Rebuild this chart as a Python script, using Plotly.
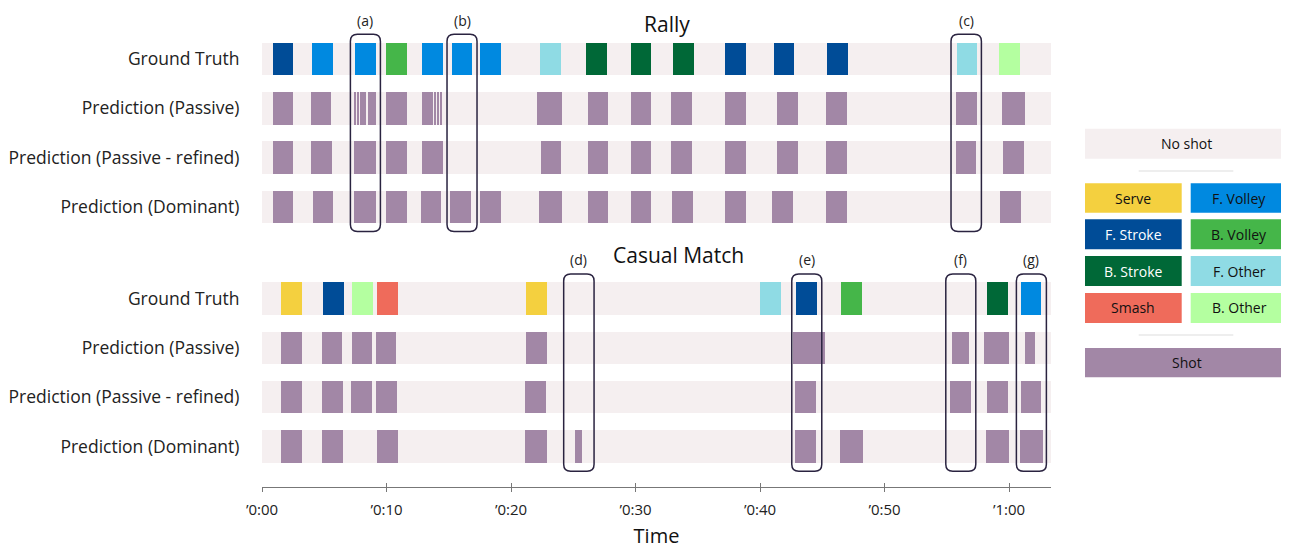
import plotly.graph_objects as go

# ---------------- data (seconds) ----------------
row_labels = ["Ground Truth", "Prediction (Passive)", "Prediction (Passive - refined)", "Prediction (Dominant)"]
x_max = 63.37
tick_vals = [0, 10, 20, 30, 40, 50, 60]
tick_text = ["’0:00", "’0:10", "’0:20", "’0:30", "’0:40", "’0:50", "’1:00"]

# Rally - ground truth
rally_gt_start = [0.86, 4.02, 7.50, 9.96, 12.85, 15.24, 17.51, 22.36, 26.06, 29.61, 33.01, 37.22, 41.10, 45.41, 55.80, 59.23]
rally_gt_end = [2.52, 5.68, 9.16, 11.62, 14.51, 16.90, 19.17, 24.02, 27.71, 31.28, 34.67, 38.88, 42.76, 47.07, 57.46, 60.88]
rally_gt_class = ["F. Stroke", "F. Volley", "F. Volley", "B. Volley", "F. Volley", "F. Volley", "F. Volley", "F. Other",
                  "B. Stroke", "B. Stroke", "B. Stroke", "F. Stroke", "F. Stroke", "F. Stroke", "F. Other", "B. Other"]

# Rally - predictions
rally_passive_start = [0.86, 3.91, 7.41, 7.63, 7.93, 8.05, 8.54, 9.96, 12.85, 13.57, 13.85, 14.11, 14.35,
                       22.12, 26.16, 29.61, 32.83, 37.22, 41.40, 45.33, 55.72, 59.44]
rally_passive_end = [2.52, 5.54, 7.51, 7.81, 7.99, 8.33, 9.19, 11.62, 13.49, 13.73, 13.98, 14.25, 14.43,
                     24.13, 27.82, 31.28, 34.51, 38.88, 43.05, 46.99, 57.46, 61.29]
rally_refined_start = [0.86, 3.97, 7.42, 9.96, 12.85, 22.39, 26.16, 29.61, 32.88, 37.22, 41.37, 45.33, 55.72, 59.52]
rally_refined_end = [2.52, 5.62, 9.16, 11.62, 14.51, 24.05, 27.82, 31.28, 34.54, 38.88, 43.03, 46.99, 57.38, 61.18]
rally_dominant_start = [0.86, 4.07, 7.42, 9.96, 12.75, 15.13, 17.49, 22.25, 26.16, 29.61, 32.96, 37.22, 41.00, 45.33, 59.31]
rally_dominant_end = [2.52, 5.73, 9.16, 11.62, 14.41, 16.79, 19.17, 24.13, 27.82, 31.28, 34.65, 38.88, 42.65, 46.99, 61.00]

# Casual match - ground truth
casual_gt_start = [1.50, 4.90, 7.23, 9.24, 21.20, 40.03, 42.92, 46.48, 58.23, 60.92]
casual_gt_end = [3.19, 6.56, 8.89, 10.90, 22.87, 41.72, 44.61, 48.17, 59.92, 62.60]
casual_gt_class = ["Serve", "F. Stroke", "B. Other", "Smash", "Serve", "F. Other", "F. Stroke", "B. Volley", "B. Stroke", "F. Volley"]

# Casual match - predictions
casual_passive_start = [1.50, 4.80, 7.20, 9.13, 21.20, 42.65, 55.42, 57.99, 61.29]
casual_passive_end = [3.19, 6.46, 8.87, 10.80, 22.87, 45.20, 56.82, 60.03, 62.12]
casual_refined_start = [1.50, 4.85, 7.15, 9.13, 21.16, 42.84, 55.29, 58.26, 60.92]
casual_refined_end = [3.19, 6.51, 8.87, 10.84, 22.81, 44.50, 56.98, 59.95, 62.60]
casual_dominant_start = [1.50, 4.85, 9.27, 21.10, 25.14, 25.33, 42.84, 46.40, 58.15, 60.84]
casual_dominant_end = [3.19, 6.51, 10.96, 22.87, 25.26, 25.73, 44.50, 48.31, 60.03, 62.71]

# Highlighted regions
hl_names = ["(a)", "(b)", "(c)", "(d)", "(e)", "(f)", "(g)"]
hl_start = [7.10, 14.86, 55.34, 24.23, 42.55, 54.92, 60.59]
hl_end = [9.51, 17.27, 57.78, 26.67, 44.96, 57.33, 63.00]
hl_section = ["Rally", "Rally", "Rally", "Casual", "Casual", "Casual", "Casual"]

# Classes / legend
class_names = ["Serve", "F. Volley", "F. Stroke", "B. Volley", "B. Stroke", "F. Other", "Smash", "B. Other"]
class_colors = ["#f4d03f", "#0089e0", "#004c97", "#45b649", "#006837", "#8fdbe4", "#ef6b5b", "#b4ffa0"]
class_text_colors = ["#111", "#111", "#fff", "#111", "#fff", "#111", "#111", "#111"]
shot_color = "#a287a6"
noshot_color = "#f5eff0"

# ---------------- layout geometry ----------------
# reference pixel layout; the page body adds an 8px offset, so the figure is shifted by it
OFF = 8
PLOT_L, PLOT_R, PLOT_T, PLOT_B = 262, 1051, 30, 487
W, H = 1289 - OFF, 552 - OFF
L, T = PLOT_L - OFF, PLOT_T - OFF
R, B = W - (PLOT_R - OFF), H - (PLOT_B - OFF)
PW, PH = PLOT_R - PLOT_L, PLOT_B - PLOT_T
row_gap = 49.3
y_top = -29 / row_gap
y_bot = y_top + PH / row_gap
rally_rows = [0, 1, 2, 3]
casual_rows = [4.86, 5.86, 6.86, 7.86]
bar_w = 0.66
FONT = "Open Sans"

color_of = dict(zip(class_names, class_colors))

fig = go.Figure()

# background "no shot" bands
all_rows = rally_rows + casual_rows
fig.add_trace(go.Bar(orientation="h", y=all_rows, base=[0] * len(all_rows), x=[x_max] * len(all_rows),
                     width=bar_w, marker=dict(color=noshot_color, line=dict(width=0)),
                     showlegend=False, hoverinfo="skip"))


def add_gt(row, starts, ends, classes):
    for cname in class_names:
        idx = [i for i, c in enumerate(classes) if c == cname]
        if not idx:
            continue
        fig.add_trace(go.Bar(orientation="h", y=[row] * len(idx), base=[starts[i] for i in idx],
                             x=[ends[i] - starts[i] for i in idx], width=bar_w,
                             marker=dict(color=color_of[cname], line=dict(width=0)),
                             name=cname, showlegend=False))


def add_pred(row, starts, ends):
    fig.add_trace(go.Bar(orientation="h", y=[row] * len(starts), base=starts,
                         x=[e - s for s, e in zip(starts, ends)], width=bar_w,
                         marker=dict(color=shot_color, line=dict(width=0)),
                         name="Shot", showlegend=False))


add_gt(rally_rows[0], rally_gt_start, rally_gt_end, rally_gt_class)
add_pred(rally_rows[1], rally_passive_start, rally_passive_end)
add_pred(rally_rows[2], rally_refined_start, rally_refined_end)
add_pred(rally_rows[3], rally_dominant_start, rally_dominant_end)
add_gt(casual_rows[0], casual_gt_start, casual_gt_end, casual_gt_class)
add_pred(casual_rows[1], casual_passive_start, casual_passive_end)
add_pred(casual_rows[2], casual_refined_start, casual_refined_end)
add_pred(casual_rows[3], casual_dominant_start, casual_dominant_end)

# invisible trace for the crossing tick axis
fig.add_trace(go.Scatter(x=[None], y=[None], xaxis="x2", showlegend=False, hoverinfo="skip"))

shapes = []
annotations = []


# reference-pixel -> paper helpers (for items placed outside the plotting range)
def PX(px):
    return (px - PLOT_L) / PW


def PY(py):
    return (PLOT_B - py) / PH


def YV2PY(v):
    return (y_bot - v) / (y_bot - y_top)


def XV2PX(v):
    return v / x_max


# highlight boxes (rounded rectangles)
rx = 7 / (PW / x_max)
ry = 7 / row_gap
for name, s, e, sec in zip(hl_names, hl_start, hl_end, hl_section):
    rows = rally_rows if sec == "Rally" else casual_rows
    y0 = rows[0] - 0.5
    y1 = rows[-1] + 0.5
    path = (f"M {s + rx},{y0} L {e - rx},{y0} Q {e},{y0} {e},{y0 + ry} "
            f"L {e},{y1 - ry} Q {e},{y1} {e - rx},{y1} L {s + rx},{y1} Q {s},{y1} {s},{y1 - ry} "
            f"L {s},{y0 + ry} Q {s},{y0} {s + rx},{y0} Z")
    shapes.append(dict(type="path", path=path, xref="x", yref="y",
                       line=dict(color="#2a2340", width=1.5), fillcolor="rgba(0,0,0,0)"))
    annotations.append(dict(x=XV2PX((s + e) / 2), y=YV2PY(y0 - 0.29), xref="paper", yref="paper", text=name,
                            showarrow=False, font=dict(family=FONT, size=14, color="#222"),
                            xanchor="center", yanchor="middle"))

# section titles
annotations.append(dict(x=PX(667), y=PY(OFF), xref="paper", yref="paper", text="Rally", showarrow=False,
                        font=dict(family=FONT, size=21, color="#111"), xanchor="center", yanchor="top"))
annotations.append(dict(x=PX(678), y=PY(255), xref="paper", yref="paper", text="Casual Match",
                        showarrow=False, font=dict(family=FONT, size=21, color="#111"),
                        xanchor="center", yanchor="middle"))


def legend_box(x0, x1, y0, y1, color, text, tcolor):
    shapes.append(dict(type="rect", xref="paper", yref="paper", x0=PX(x0), x1=PX(x1), y0=PY(y1), y1=PY(y0),
                       fillcolor=color, line=dict(width=0), layer="above"))
    annotations.append(dict(x=PX((x0 + x1) / 2), y=PY((y0 + y1) / 2), xref="paper", yref="paper", text=text,
                            showarrow=False, font=dict(family=FONT, size=14, color=tcolor),
                            xanchor="center", yanchor="middle"))


legend_box(1085, 1288, 128.7, 158.7, noshot_color, "No shot", "#111")
shapes.append(dict(type="line", xref="paper", yref="paper", x0=PX(1138.7), x1=PX(1233.3), y0=PY(171), y1=PY(171),
                   line=dict(color="#dddddd", width=1.2)))
col_x = [(1085, 1181.7), (1190.7, 1288)]
row_y = [(183.3, 212.7), (219.3, 249.3), (256, 286), (293, 323)]
for i, (cn, cc, tc) in enumerate(zip(class_names, class_colors, class_text_colors)):
    cx = col_x[i % 2]
    ry_ = row_y[i // 2]
    legend_box(cx[0], cx[1], ry_[0], ry_[1], cc, cn, tc)
shapes.append(dict(type="line", xref="paper", yref="paper", x0=PX(1138.7), x1=PX(1233.3), y0=PY(335), y1=PY(335),
                   line=dict(color="#dddddd", width=1.2)))
legend_box(1085, 1288, 348, 377.3, shot_color, "Shot", "#111")

fig.update_layout(
    width=W, height=H,
    margin=dict(l=L, r=R, t=T, b=B, pad=0, autoexpand=False),
    plot_bgcolor="white", paper_bgcolor="white",
    barmode="overlay", bargap=0,
    shapes=shapes, annotations=annotations,
    font=dict(family=FONT, color="#222"),
    xaxis=dict(range=[0, x_max], tickvals=tick_vals, ticktext=tick_text, showgrid=False, zeroline=False,
               showline=True, linecolor="#777", linewidth=1, ticks="outside", ticklen=4, tickcolor="#777",
               tickfont=dict(family=FONT, size=15, color="#222"), ticklabelstandoff=5,
               title=dict(text="Time", font=dict(family=FONT, size=20, color="#111"), standoff=10),
               fixedrange=True),
    xaxis2=dict(overlaying="x", matches="x", anchor="y", side="bottom", tickvals=tick_vals,
                showticklabels=False, ticks="inside", ticklen=4, tickcolor="#777",
                showgrid=False, zeroline=False, showline=False),
    yaxis=dict(range=[y_bot, y_top], tickvals=all_rows, ticktext=row_labels + row_labels,
               showgrid=False, zeroline=False, showline=False, ticks="outside", ticklen=18,
               tickcolor="rgba(0,0,0,0)", tickfont=dict(family=FONT, size=17.5, color="#222"),
               fixedrange=True),
)

fig.write_html("out.html")
